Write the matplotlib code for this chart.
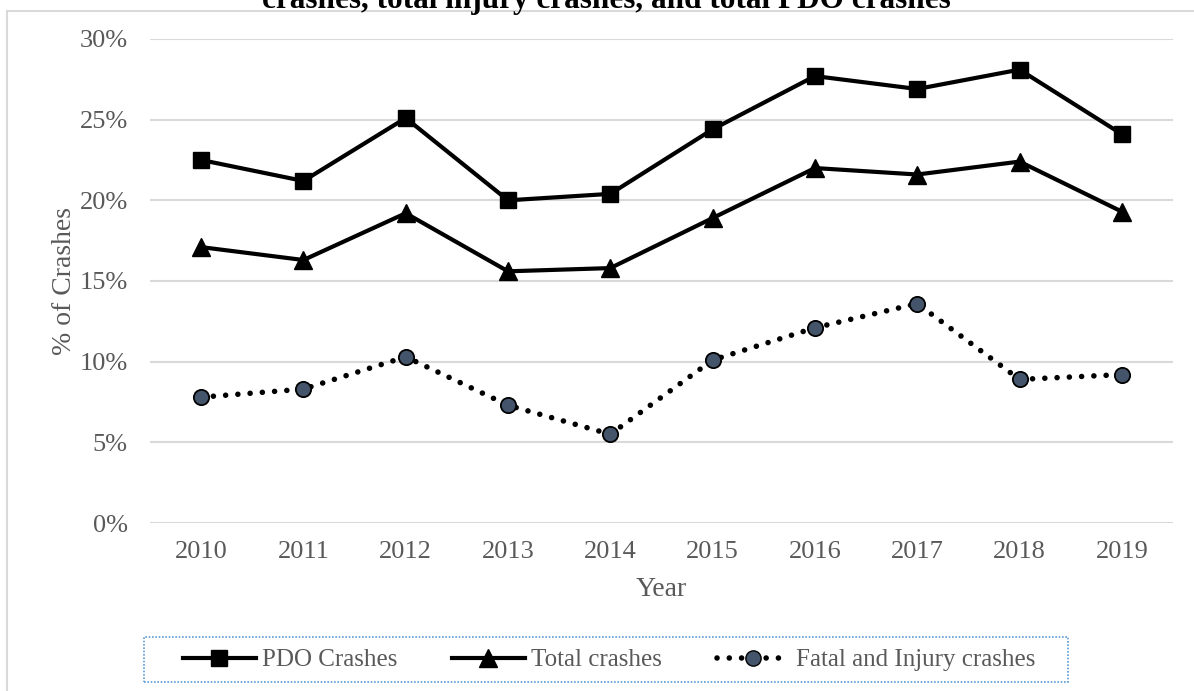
import matplotlib.pyplot as plt
from matplotlib.patches import Rectangle
from matplotlib.lines import Line2D

years = ["2010", "2011", "2012", "2013", "2014", "2015", "2016", "2017", "2018", "2019"]
pdo = [22.5, 21.2, 25.1, 20.0, 20.4, 24.4, 27.7, 26.9, 28.1, 24.1]
total = [17.1, 16.3, 19.2, 15.6, 15.8, 18.9, 22.0, 21.6, 22.4, 19.3]
fatal_injury = [7.8, 8.3, 10.3, 7.3, 5.5, 10.1, 12.1, 13.6, 8.9, 9.2]
yticks = [0, 5, 10, 15, 20, 25, 30]

serif = "Liberation Serif"
grey = "#595959"
W, H = 1194, 691

fig = plt.figure(figsize=(11.94, 6.91), dpi=100)
ax = fig.add_axes([0.1256, 0.2431, 0.8568, 0.7005])

# light frame round the chart area (runs off the right and bottom edges)
fig.patches.append(Rectangle((7 / W, -0.1), 1.1, 1.1 - 11 / H,
                             transform=fig.transFigure, fill=False,
                             edgecolor="#D9D9D9", linewidth=1.5))

dots = (0, (0.01, 2.2))
x = list(range(len(years)))
ax.plot(x, pdo, color="black", lw=3, marker="s", markersize=12,
        markerfacecolor="black", markeredgecolor="black", label="PDO Crashes", zorder=3)
ax.plot(x, total, color="black", lw=3, marker="^", markersize=13.5,
        markerfacecolor="black", markeredgecolor="black", label="Total crashes", zorder=3)
ax.plot(x, fatal_injury, color="black", lw=4, linestyle=dots,
        dash_capstyle="round", marker="o", markersize=11,
        markerfacecolor="#44546A", markeredgecolor="black", markeredgewidth=1.3,
        label="Fatal and Injury crashes", zorder=3)

ax.set_xlim(-0.5, 9.5)
ax.set_ylim(0, 30)
ax.set_xticks(x)
ax.set_xticklabels(years)
ax.set_yticks(yticks)
ax.set_yticklabels([f"{t}%" for t in yticks])
ax.tick_params(length=0, labelsize=19, labelcolor=grey)
ax.tick_params(axis="y", pad=16)
ax.tick_params(axis="x", pad=13)
for lab in ax.get_xticklabels() + ax.get_yticklabels():
    lab.set_fontfamily(serif)

ax.grid(axis="y", color="#D9D9D9", lw=1.5)
ax.set_axisbelow(True)
for s in ax.spines.values():
    s.set_visible(False)

ax.set_ylabel("% of Crashes", fontsize=20, color=grey, fontfamily=serif)
ax.yaxis.set_label_coords(-0.071, 0.5)
ax.set_xlabel("Year", fontsize=20, color=grey, fontfamily=serif, va="top")
ax.xaxis.set_label_coords(0.5, -0.112)

# title, top line cut off by the image edge as in the source
fig.text(606 / W, 1 - 8 / H, "crashes, total injury crashes, and total PDO crashes",
         ha="center", va="baseline", fontsize=22.5, fontweight="bold",
         fontfamily=serif, color="black")

# dotted legend box
fig.patches.append(Rectangle((144 / W, 1 - 682 / H), (1068 - 144) / W, 45 / H,
                             transform=fig.transFigure, fill=False,
                             edgecolor="#5B9BD5", linestyle=(0, (1, 1)), linewidth=1.2))

leg = fig.legend(handles=[
    Line2D([], [], color="black", lw=3, marker="s", markersize=12),
    Line2D([], [], color="black", lw=3, marker="^", markersize=13.5),
    Line2D([], [], color="black", lw=4, linestyle=dots, dash_capstyle="round",
           marker="o", markersize=11, markerfacecolor="#44546A", markeredgecolor="black"),
], labels=["PDO Crashes", "Total crashes", "Fatal and Injury crashes"],
    loc="center", bbox_to_anchor=(609 / W, 1 - 660 / H), ncol=3,
    prop={"family": serif, "size": 18}, frameon=False,
    handlelength=2.9, columnspacing=2.2, handletextpad=0.25)
for t in leg.get_texts():
    t.set_color(grey)

fig.savefig("out.png", dpi=100)
